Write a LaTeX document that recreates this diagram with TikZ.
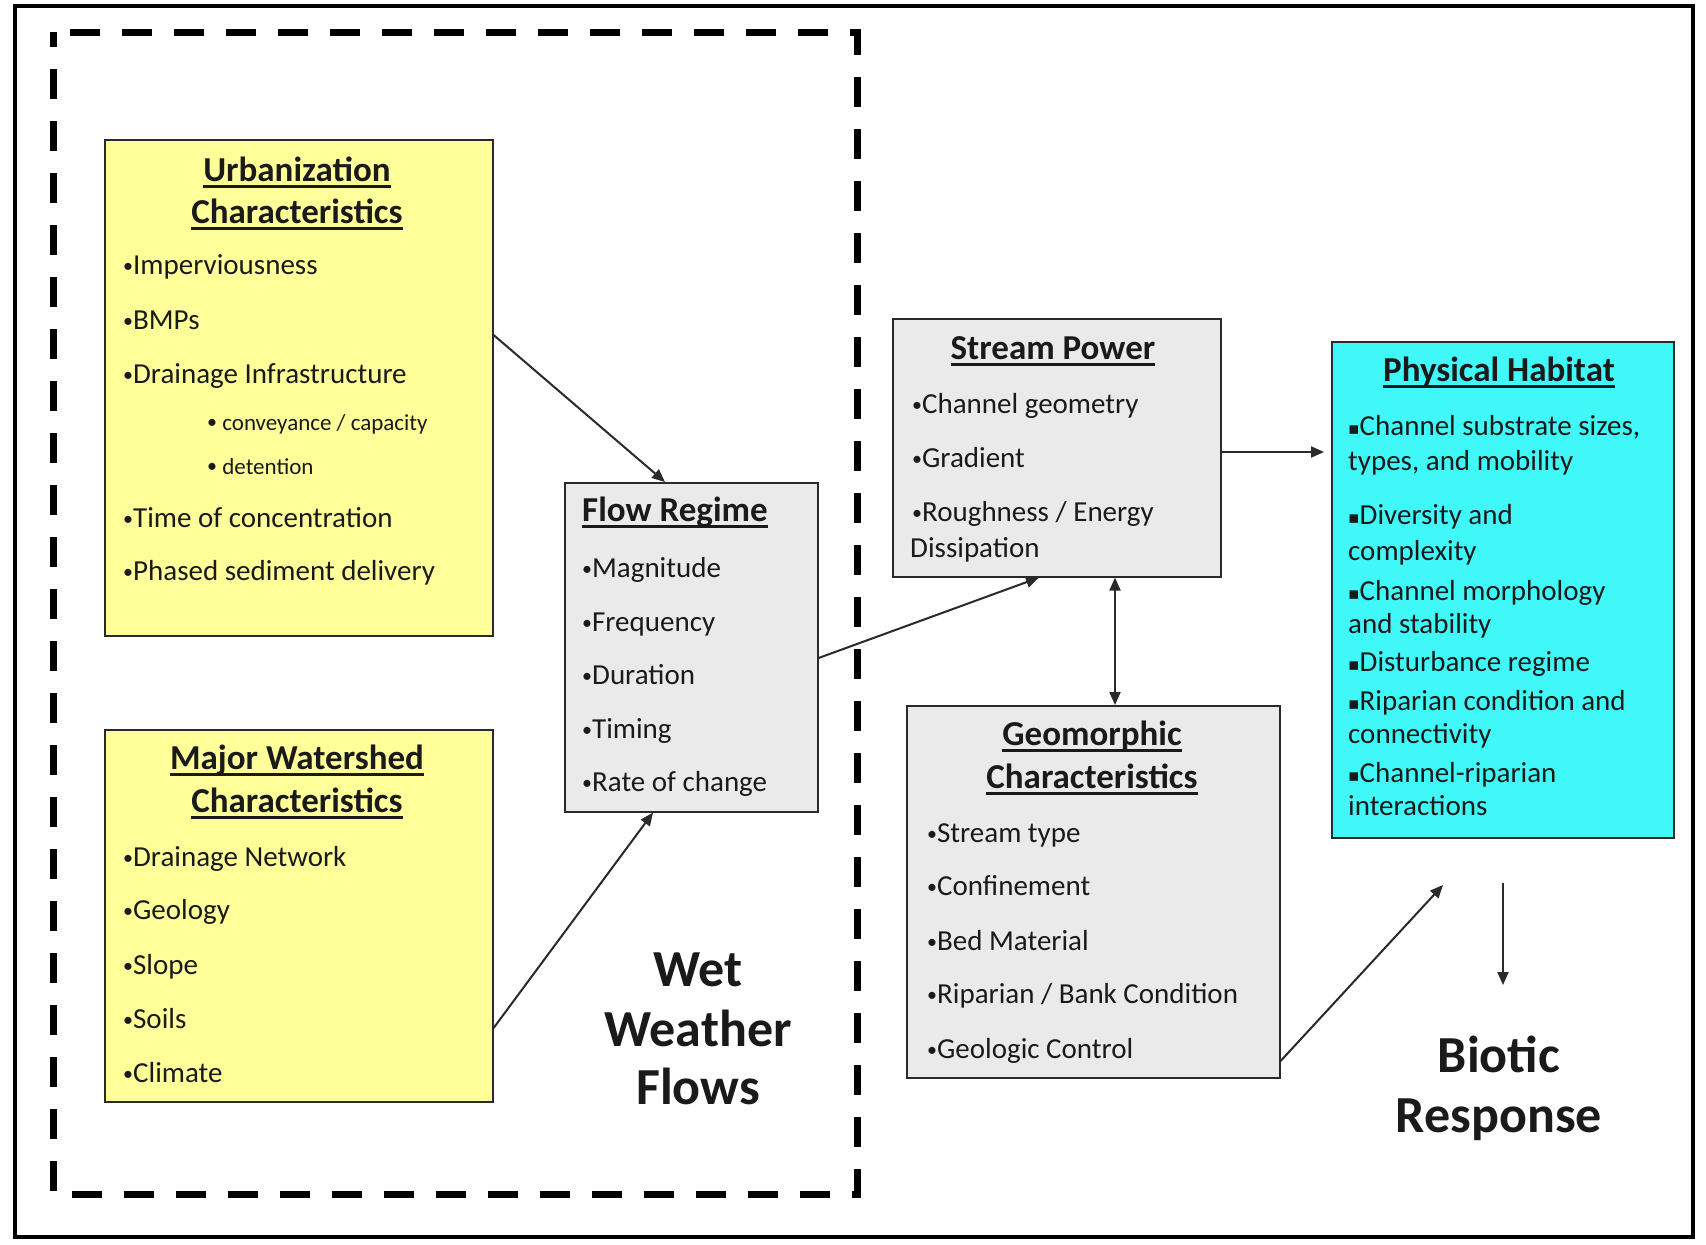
\documentclass[tikz,border=0pt]{standalone}
\usepackage{fontspec}
\setmainfont{Carlito}
\newfontfamily\dejavu{DejaVu Sans}
\usetikzlibrary{arrows.meta,calc}
\definecolor{yel}{HTML}{FFFF99}
\definecolor{gry}{HTML}{EAEAEA}
\definecolor{cyn}{HTML}{40F8F8}
\definecolor{edgec}{HTML}{2A2A2A}
\definecolor{inkc}{HTML}{1A1A1A}
\newcommand\hul[1]{\setbox0\hbox{#1}\rlap{\copy0}\rule[-7pt]{\wd0}{3pt}}
\newcommand\bodyf{\fontsize{29}{35}\selectfont}
\newcommand\smallf{\fontsize{23}{28}\selectfont}
\newcommand\headf{\bfseries\fontsize{35}{42}\selectfont}
\newcommand\bigf{\bfseries\fontsize{52}{60}\selectfont}
\newcommand\sq{{\dejavu\fontsize{17}{17}\selectfont\raisebox{1pt}{▪}}}
\newcommand\bul{{\fontsize{20}{20}\selectfont\raisebox{1.5pt}{•}}}
\begin{document}
\begin{tikzpicture}[x=1pt,y=-1pt,
  box/.style={draw=edgec, line width=1.6pt, anchor=north west, inner sep=0pt},
  txt/.style={anchor=base west, inner sep=0pt, font=\bodyf, text=inkc},
  sub/.style={anchor=base west, inner sep=0pt, font=\smallf, text=inkc},
  head/.style={anchor=base, inner sep=0pt, font=\headf, text=inkc},
  headl/.style={anchor=base west, inner sep=0pt, font=\headf, text=inkc},
  big/.style={anchor=base, inner sep=0pt, font=\bigf, text=inkc},
  arr/.style={-{Triangle[length=13pt,width=11pt]}, line width=2pt, draw=edgec},
  darr/.style={{Triangle[length=13pt,width=11pt]}-{Triangle[length=13pt,width=11pt]}, line width=2pt, draw=edgec}]
\useasboundingbox (0,0) rectangle (1706,1245);
\fill[white] (0,0) rectangle (1706,1245);
% frames
\draw[line width=4pt] (15,6) rectangle (1693,1237);
\draw[line width=7pt, dash pattern=on 30pt off 22pt, dash phase=15pt] (53,32) rectangle (857,1194);
% boxes
\node[box, fill=yel, minimum width=388pt, minimum height=496pt] (urb) at (104,139) {};
\node[box, fill=yel, minimum width=388pt, minimum height=372pt] (maj) at (104,729) {};
\node[box, fill=gry, minimum width=253pt, minimum height=329pt] (flow) at (564,482) {};
\node[box, fill=gry, minimum width=328pt, minimum height=258pt] (sp) at (892,318) {};
\node[box, fill=gry, minimum width=373pt, minimum height=372pt] (geo) at (906,705) {};
\node[box, fill=cyn, minimum width=342pt, minimum height=496pt] (ph) at (1331,341) {};
% Urbanization
\node[head] (uh1) at (297,181) {\hul{Urbanization}};
\node[head] (uh2) at (297,223) {\hul{Characteristics}};
\node[txt] (u1) at (123,274) {\bul Imperviousness};
\node[txt] (u2) at (123,329) {\bul BMPs};
\node[txt] (u3) at (123,383) {\bul Drainage Infrastructure};
\node[sub] (u4) at (207,430) {\bul\ conveyance / capacity};
\node[sub] (u5) at (207,474) {\bul\ detention};
\node[txt] (u6) at (123,527) {\bul Time of concentration};
\node[txt] (u7) at (123,580) {\bul Phased sediment delivery};
% Major Watershed
\node[head] (mh1) at (297,769) {\hul{Major Watershed}};
\node[head] (mh2) at (297,812) {\hul{Characteristics}};
\node[txt] (m1) at (123,866) {\bul Drainage Network};
\node[txt] (m2) at (123,919) {\bul Geology};
\node[txt] (m3) at (123,974) {\bul Slope};
\node[txt] (m4) at (123,1028) {\bul Soils};
\node[txt] (m5) at (123,1082) {\bul Climate};
% Flow Regime
\node[headl] (fh) at (582,521) {\hul{Flow Regime}};
\node[txt] (f1) at (582,577) {\bul Magnitude};
\node[txt] (f2) at (582,631) {\bul Frequency};
\node[txt] (f3) at (582,684) {\bul Duration};
\node[txt] (f4) at (582,738) {\bul Timing};
\node[txt] (f5) at (582,791) {\bul Rate of change};
% Stream Power
\node[head] (sh) at (1053,359) {\hul{Stream Power}};
\node[txt] (s1) at (912,413) {\bul Channel geometry};
\node[txt] (s2) at (912,467) {\bul Gradient};
\node[txt] (s3) at (912,521) {\bul Roughness / Energy};
\node[txt] (s4) at (910,557) {Dissipation};
% Geomorphic
\node[head] (gh1) at (1092,745) {\hul{Geomorphic}};
\node[head] (gh2) at (1092,788) {\hul{Characteristics}};
\node[txt] (g1) at (927,842) {\bul Stream type};
\node[txt] (g2) at (927,895) {\bul Confinement};
\node[txt] (g3) at (927,950) {\bul Bed Material};
\node[txt] (g4) at (927,1003) {\bul Riparian / Bank Condition};
\node[txt] (g5) at (927,1058) {\bul Geologic Control};
% Physical Habitat
\node[head] (ph0) at (1499,381) {\hul{Physical Habitat}};
\node[txt] (p1) at (1348,435) {\sq Channel substrate sizes,};
\node[txt] (p2) at (1348,470) {types, and mobility};
\node[txt] (p3) at (1348,524) {\sq Diversity and};
\node[txt] (p4) at (1348,560) {complexity};
\node[txt] (p5) at (1348,600) {\sq Channel morphology};
\node[txt] (p6) at (1348,633) {and stability};
\node[txt] (p7) at (1348,671) {\sq Disturbance regime};
\node[txt] (p8) at (1348,710) {\sq Riparian condition and};
\node[txt] (p9) at (1348,743) {connectivity};
\node[txt] (p10) at (1348,782) {\sq Channel-riparian};
\node[txt] (p11) at (1348,815) {interactions};
% big labels
\node[big] (w1) at (698,986) {Wet};
\node[big] (w2) at (698,1046) {Weather};
\node[big] (w3) at (698,1104) {Flows};
\node[big] (b1) at (1499,1072) {Biotic};
\node[big] (b2) at (1499,1132) {Response};
% connectors
\coordinate (phin) at (1443,885);
\coordinate (bstart) at (1503,883);
\coordinate (bend) at (1503,985);
\draw[arr] ($(urb.north east)+(0,196)$) -- ($(flow.north west)+(101,0)$);
\draw[arr] ($(maj.north east)+(0,299)$) -- ($(flow.south west)+(89,0)$);
\draw[arr] ($(flow.north east)+(0,176)$) -- ($(sp.south west)+(147,0)$);
\draw[arr] ($(sp.north east)+(0,134)$) -- ($(ph.north west)+(-7,111)$);
\draw[darr] ($(sp.south west)+(223,0)$) -- ($(geo.north west)+(209,0)$);
\draw[arr] ($(geo.north east)+(0,356)$) -- (phin);
\draw[arr] (bstart) -- (bend);
\end{tikzpicture}
\end{document}
